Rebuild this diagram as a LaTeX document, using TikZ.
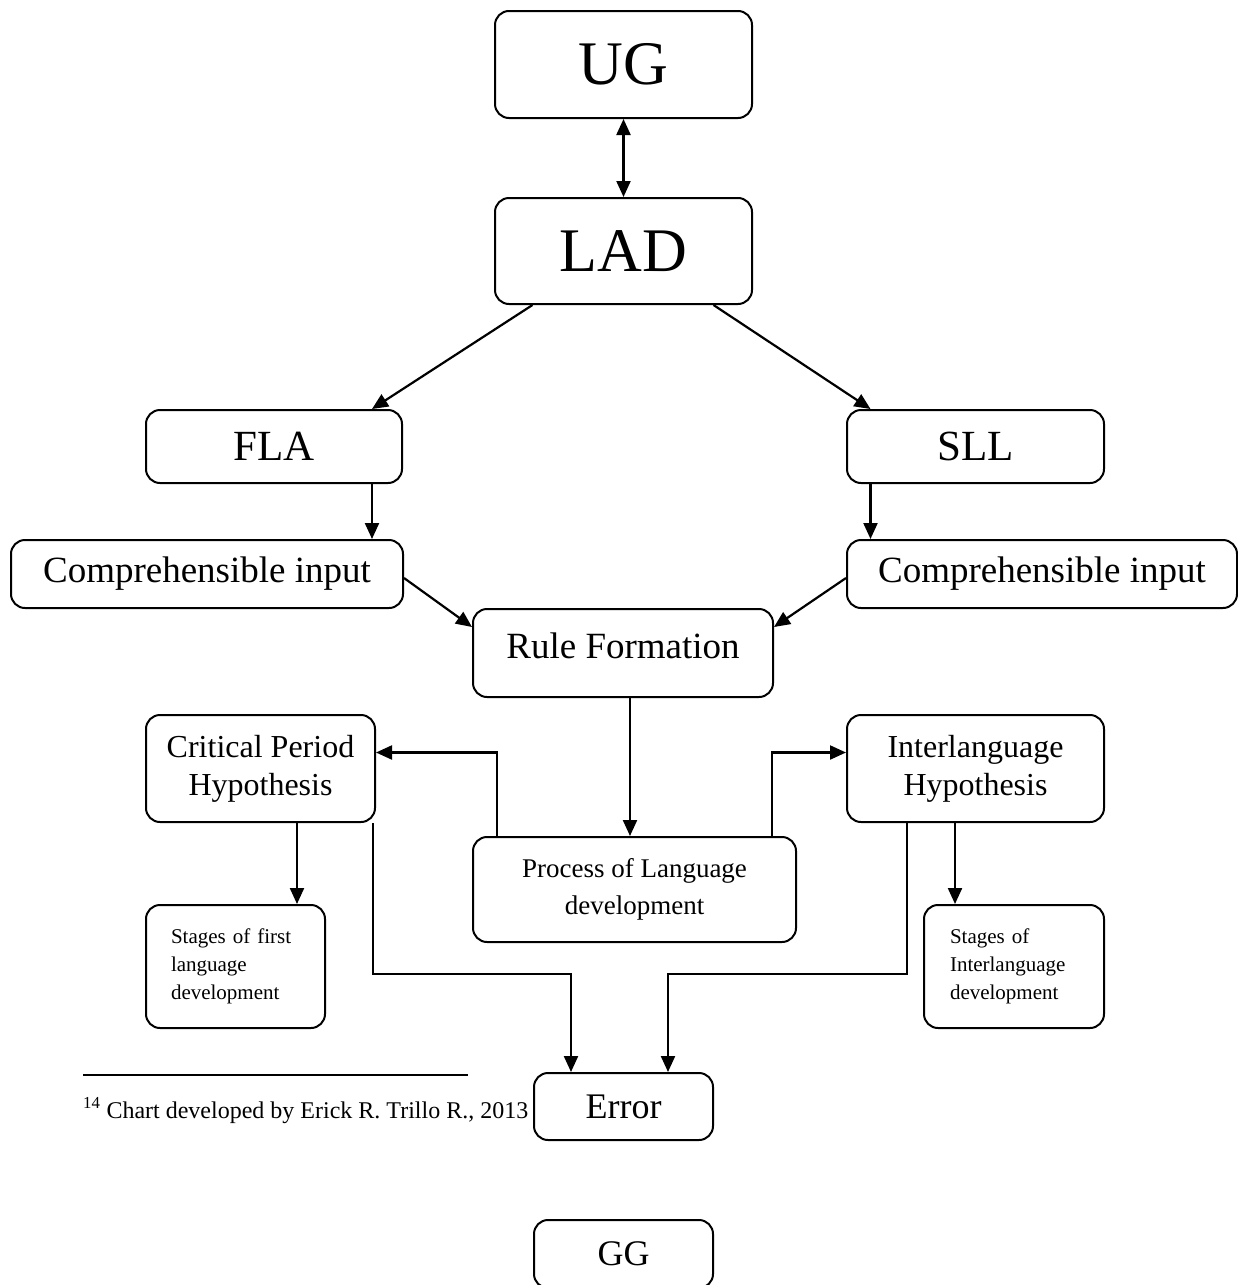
\documentclass[tikz,border=0pt]{standalone}
\usepackage{fontspec}
\setmainfont{Liberation Serif}
\usetikzlibrary{arrows.meta}
\newcommand\fsz[2]{\fontsize{#1pt}{#2pt}\selectfont}
\begin{document}
\begin{tikzpicture}[x=1pt,y=-1pt,
  box/.style={draw,line width=2pt,rounded corners=14pt,inner sep=0pt,align=center},
  arr/.style={line width=2.2pt,-{Triangle[length=16pt,width=14pt]}},
  darr/.style={line width=2.2pt,{Triangle[length=16pt,width=14pt]}-{Triangle[length=16pt,width=14pt]}},
  fs/.style={font=\fsz{#1}{#1}},
  fs2/.style 2 args={font=\fsz{#1}{#2}}]
\useasboundingbox (0,0) rectangle (1237,1285);
\node[box,minimum width=257pt,minimum height=107pt,fs=62] (UG) at (623.5,64.5) {UG};
\node[box,minimum width=257pt,minimum height=106pt,fs=62] (LAD) at (623.5,251) {LAD};
\node[box,minimum width=256pt,minimum height=73pt,fs=43] (FLA) at (274,446.5) {FLA};
\node[box,minimum width=257pt,minimum height=73pt,fs=43] (SLL) at (975.5,446.5) {SLL};
\node[box,minimum width=392pt,minimum height=68pt,fs=37] (CL) at (207,574) {Comprehensible input};
\node[box,minimum width=390pt,minimum height=68pt,fs=37] (CR) at (1042,574) {Comprehensible input};
\node[box,minimum width=300pt,minimum height=88pt,fs=37,text depth=14pt] (RF) at (623,653) {Rule Formation};
\node[box,minimum width=229pt,minimum height=107pt,fs2={32}{38}] (CP) at (260.5,768.5) {Critical Period\\Hypothesis};
\node[box,minimum width=257pt,minimum height=107pt,fs2={32}{38}] (IH) at (975.5,768.5) {Interlanguage\\Hypothesis};
\node[box,minimum width=323pt,minimum height=105pt,fs2={27}{37}] (PL) at (634.5,889.5) {Process of Language\\development};
\node[box,minimum width=179pt,minimum height=123pt,fs2={21}{28},align=left,text width=129pt] (SF) at (235.5,966.5) {Stages of first\\language\\development};
\node[box,minimum width=180pt,minimum height=123pt,fs2={21}{28},align=left,text width=128pt] (SI) at (1014,966.5) {Stages of\\Interlanguage\\development};
\node[box,minimum width=179pt,minimum height=67pt,fs=36] (ER) at (623.5,1106.5) {Error};
\node[box,minimum width=179pt,minimum height=68pt,fs=36] (GG) at (623.5,1254) {GG};
% footnote
\coordinate (FL1) at (83,1075);
\coordinate (FL2) at (468,1075);
\draw[line width=1.3pt] (FL1) -- (FL2);
\node[anchor=base west,inner sep=0pt,fs=24] (FN) at (83,1118) {\textsuperscript{14} Chart developed by Erick R. Trillo R., 2013};
% connectors
\draw[darr] (UG.south) -- (LAD.north);
\draw[arr] ([xshift=-91pt]LAD.south) -- ([xshift=98pt]FLA.north);
\draw[arr] ([xshift=90pt]LAD.south) -- ([xshift=-105pt]SLL.north);
\draw[arr] ([xshift=98pt]FLA.south) -- ([xshift=98pt]FLA.south |- CL.north);
\draw[arr] ([xshift=-105pt]SLL.south) -- ([xshift=-105pt]SLL.south |- CR.north);
\draw[arr] ([yshift=-4pt]CL.east) -- ([yshift=26pt]RF.west);
\draw[arr] ([yshift=-4pt]CR.west) -- ([yshift=26pt]RF.east);
\draw[arr] ([xshift=7pt]RF.south) -- ([xshift=-4.5pt]PL.north);
\draw[arr] ([xshift=-137.5pt]PL.north) |- ([yshift=16pt]CP.east);
\draw[arr] ([xshift=137.5pt]PL.north) |- ([yshift=16pt]IH.west);
\draw[arr] ([xshift=36.5pt]CP.south) -- ([xshift=36.5pt]CP.south |- SF.north);
\draw[arr] ([xshift=-20.5pt]IH.south) -- ([xshift=-20.5pt]IH.south |- SI.north);
\draw[arr] ([xshift=-3pt]CP.south east) -- ++(0,151) -| ([xshift=-52.5pt]ER.north);
\draw[arr] ([xshift=-198pt]IH.south east) -- ++(0,151) -| ([xshift=44.5pt]ER.north);
\end{tikzpicture}
\end{document}
